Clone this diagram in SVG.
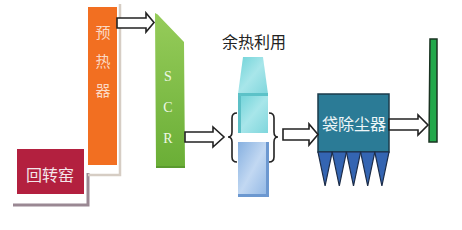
<svg xmlns="http://www.w3.org/2000/svg" width="462" height="230" viewBox="0 0 462 230">
<defs>
<linearGradient id="gScr" x1="0" y1="0" x2="0" y2="1">
<stop offset="0" stop-color="#96cc5a"/><stop offset="1" stop-color="#6aae36"/>
</linearGradient>
<linearGradient id="gCyan" x1="0" y1="0" x2="1" y2="1">
<stop offset="0" stop-color="#6fd3d8"/><stop offset="0.5" stop-color="#a8e6ea"/><stop offset="1" stop-color="#7fd6dc"/>
</linearGradient>
<linearGradient id="gBlue" x1="0" y1="0" x2="1" y2="1">
<stop offset="0" stop-color="#86b0e0"/><stop offset="0.5" stop-color="#c2d8f2"/><stop offset="1" stop-color="#8fb6e4"/>
</linearGradient>
<style>
.arrow{fill:#fff;stroke:#222;stroke-width:1.6;stroke-linejoin:miter}
.brace{fill:none;stroke:#222;stroke-width:1.6}
.cjk{font-family:"Noto Sans CJK SC","Noto Sans",sans-serif}
.ser{font-family:"Liberation Serif","DejaVu Serif",serif}
</style>
</defs>
<rect width="462" height="230" fill="#fff"/>

<g id="kiln">
<polyline points="13,205 88,205 88,173" fill="none" stroke="#9a8893" stroke-width="3"/>
<rect x="17" y="149" width="67" height="45" fill="#b3203f"/>
<text x="50" y="181" class="cjk" font-size="16" fill="#f4e6ea" text-anchor="middle">回转窑</text>
</g>

<g id="preheater">
<polyline points="88,175 120,175 120,4" fill="none" stroke="#d6cdc4" stroke-width="2.5"/>
<rect x="88" y="7" width="29" height="158" fill="#f26f21"/>
<text x="103" y="38" class="cjk" font-size="15" fill="#fbd9c4" text-anchor="middle">预</text>
<text x="103" y="67" class="cjk" font-size="15" fill="#fbd9c4" text-anchor="middle">热</text>
<text x="103" y="96" class="cjk" font-size="15" fill="#fbd9c4" text-anchor="middle">器</text>
</g>

<g id="scr">
<path d="M155,13 Q158,14 160,17 L184,42 L185,168 L156,168 Z" fill="url(#gScr)"/>
<rect x="156" y="166" width="29" height="2" fill="#5a9a2e"/>
<text x="168" y="81" class="ser" font-size="14" fill="#eef8e4" text-anchor="middle">S</text>
<text x="168" y="112" class="ser" font-size="14" fill="#eef8e4" text-anchor="middle">C</text>
<text x="168" y="143" class="ser" font-size="14" fill="#eef8e4" text-anchor="middle">R</text>
</g>

<g id="heat-recovery">
<text x="254" y="48" class="cjk" font-size="16" fill="#222" text-anchor="middle">余热利用</text>
<polygon points="243,57 263,57 268,94 238,94" fill="url(#gCyan)"/>
<rect x="238" y="93" width="30" height="3" fill="#5cc2c8"/>
<rect x="238" y="96" width="30" height="37" fill="url(#gCyan)"/>
<rect x="238" y="96" width="3" height="37" fill="#5cbfc6"/>
<rect x="238" y="142" width="30" height="55" fill="url(#gBlue)"/>
<rect x="266" y="142" width="3" height="55" fill="#6c98d0"/>
<rect x="238" y="194" width="31" height="3" fill="#6c98d0"/>
</g>

<g id="baghouse">
<rect x="318" y="94" width="71" height="58" fill="#2b7b96" stroke="#1b3b4b" stroke-width="1.5"/>
<text x="354" y="130" class="cjk" font-size="16" fill="#eef6f8" text-anchor="middle">袋除尘器</text>
<g fill="#3465b2" stroke="#1c2c48" stroke-width="1.2">
<polygon points="318,152 332.2,152 325.1,186"/>
<polygon points="332.2,152 346.4,152 339.3,186"/>
<polygon points="346.4,152 360.6,152 353.5,186"/>
<polygon points="360.6,152 374.8,152 367.7,186"/>
<polygon points="374.8,152 389,152 381.9,186"/>
</g>
</g>

<g id="chimney">
<polygon points="430,39 437,39 437,142 429,142" fill="#22a84a" stroke="#1a3322" stroke-width="1.5"/>
</g>

<g id="connectors">
<polygon class="arrow" points="117,18 146,18 146,13 154,22.5 146,32 146,28 117,28"/>
<polygon class="arrow" points="185,132 213,132 213,127 224,137 213,147 213,142 185,142"/>
<polygon class="arrow" points="283,129 309,129 309,124 318,134.5 309,145 309,140 283,140"/>
<polygon class="arrow" points="389,119 418,119 418,115 428,125 418,135 418,130 389,130"/>
<path class="brace" d="M237,113 Q232,113 232,118 L232,132 Q232,137 228,137 Q232,137 232,142 L232,157 Q232,162 237,162"/>
<path class="brace" d="M269,113 Q274,113 274,118 L274,132 Q274,137 278,137 Q274,137 274,142 L274,157 Q274,162 269,162"/>
</g>
</svg>
